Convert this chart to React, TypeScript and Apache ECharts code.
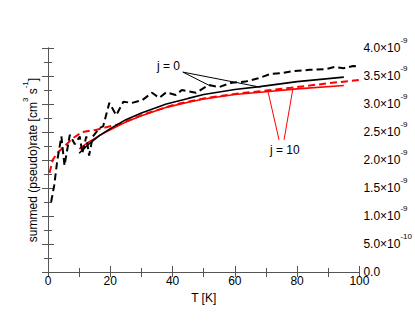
import React, { useEffect, useRef } from "react";
import * as echarts from "echarts";

// values are in units of 1e-9 cm^3 s^-1
const blackDashedT = [1, 2, 3, 4.3, 5.3, 7, 8.6, 10.2, 11, 12.3, 13.2, 14.4, 16.5, 17.7, 19.7, 21.9, 24.2, 27, 30.3, 33.4, 35.7, 38, 41, 43, 47.5, 51.6, 54.8, 59, 63.4, 67.5, 71.7, 75, 79, 84, 89, 92, 95, 98, 100];
const blackDashedV = [1.25, 1.55, 2.0, 2.42, 1.9, 2.45, 2.28, 2.42, 2.12, 2.42, 2.08, 2.42, 2.57, 2.6, 3.02, 2.8, 3.04, 3.02, 3.07, 3.2, 3.11, 3.21, 3.16, 3.25, 3.2, 3.34, 3.3, 3.38, 3.4, 3.46, 3.54, 3.55, 3.59, 3.61, 3.62, 3.66, 3.64, 3.68, 3.67];

const blackSolidT = [10, 13, 16.6, 20, 25, 30, 38, 45, 50, 60, 68, 80, 95];
const blackSolidV = [2.12, 2.28, 2.44, 2.56, 2.72, 2.84, 3.0, 3.1, 3.17, 3.26, 3.31, 3.4, 3.48];

const redSolidT = [10, 13, 16.6, 20, 25, 30, 38, 45, 50, 60, 70, 80, 95];
const redSolidV = [2.2, 2.32, 2.44, 2.54, 2.68, 2.79, 2.94, 3.03, 3.09, 3.17, 3.22, 3.27, 3.33];

const redDashedT = [0.5, 1.5, 3, 5, 8, 11, 15.6, 19, 23, 30, 40, 50, 60, 70, 78, 90, 100];
const redDashedV = [1.77, 2.0, 2.13, 2.23, 2.39, 2.5, 2.54, 2.59, 2.64, 2.8, 2.98, 3.1, 3.18, 3.24, 3.29, 3.37, 3.43];

const xTicks = [0, 20, 40, 60, 80, 100];
const yMax = 4.0;

// annotation leader lines (data coordinates)
const j0Lines = [
  [[43.3, 3.57], [52.2, 3.32]],
  [[43.3, 3.57], [68.2, 3.30]],
];
const j10Lines = [
  [[74.2, 2.36], [70.7, 3.21]],
  [[75.8, 2.36], [78.7, 3.29]],
];

const zip = (t: number[], v: number[]) => t.map((x, i) => [x, v[i]]);

const AXIS_COLOR = "#555";
const FONT = "Liberation Sans, Arial, sans-serif";

function yLabel(v: number): string {
  if (Math.abs(v) < 1e-9) return "{a|0.0}";
  if (Math.abs(v - 0.5) < 1e-9) return "{a|5.0×10}{s|-10}";
  return "{a|" + v.toFixed(1) + "×10}{s|-9}";
}

export default function App() {
  const ref = useRef<HTMLDivElement>(null);
  useEffect(() => {
    if (!ref.current) return;
    const chart = echarts.init(ref.current, undefined, { renderer: "svg" });
    const mkLines = (lines: number[][][], color: string) => ({
      silent: true,
      symbol: "none",
      animation: false,
      label: { show: false },
      lineStyle: { color, width: 1, type: "solid" },
      data: lines.map((l) => [{ coord: l[0] }, { coord: l[1] }]),
    });
    const tickBase = {
      inside: true,
      length: 6,
      lineStyle: { color: AXIS_COLOR },
    };
    const supRich = {
      n: { fontFamily: FONT, fontSize: 12, fill: "#000", color: "#000", lineHeight: 16 },
      s: { fontFamily: FONT, fontSize: 8, fill: "#000", color: "#000", verticalAlign: "top", lineHeight: 16, padding: [-4, 0, 0, 0] },
    };
    chart.setOption({
      animation: false,
      grid: { left: 48, right: 53, top: 48, bottom: 49, containLabel: false },
      xAxis: [
        {
          type: "value",
          min: 0,
          max: 100,
          interval: 20,
          position: "bottom",
          name: "T [K]",
          nameLocation: "middle",
          nameGap: 10,
          nameTextStyle: { fontFamily: FONT, fontSize: 12, color: "#000" },
          axisLine: { show: true, lineStyle: { color: AXIS_COLOR } },
          axisTick: tickBase,
          minorTick: { show: true, splitNumber: 2, length: 4, lineStyle: { color: AXIS_COLOR } },
          axisLabel: {
            margin: 3,
            fontFamily: FONT,
            fontSize: 12,
            color: "#000",
            customValues: xTicks,
          },
          splitLine: { show: false },
          minorSplitLine: { show: false },
        },
        {
          type: "value",
          min: 0,
          max: 100,
          interval: 10,
          position: "top",
          axisLine: { show: true, lineStyle: { color: AXIS_COLOR } },
          axisTick: { ...tickBase, length: 5 },
          axisLabel: { show: false },
          splitLine: { show: false },
        },
      ],
      yAxis: [
        {
          type: "value",
          min: 0,
          max: yMax,
          interval: 0.5,
          position: "right",
          axisLine: { show: true, lineStyle: { color: AXIS_COLOR } },
          axisTick: tickBase,
          minorTick: { show: true, splitNumber: 2, length: 4, lineStyle: { color: AXIS_COLOR } },
          axisLabel: {
            margin: 4,
            formatter: yLabel,
            rich: {
              a: { fontFamily: FONT, fontSize: 12, color: "#000", lineHeight: 16 },
              s: { fontFamily: FONT, fontSize: 8, color: "#000", verticalAlign: "top", lineHeight: 16, padding: [-4, 0, 0, 0] },
            },
          },
          splitLine: { show: false },
        },
        {
          type: "value",
          min: 0,
          max: yMax,
          interval: 0.5,
          position: "left",
          axisLine: { show: true, lineStyle: { color: AXIS_COLOR } },
          axisTick: tickBase,
          minorTick: { show: true, splitNumber: 2, length: 4, lineStyle: { color: AXIS_COLOR } },
          axisLabel: { show: false },
          splitLine: { show: false },
        },
      ],
      graphic: [
        {
          type: "text",
          x: 33,
          y: 160,
          rotation: Math.PI / 2,
          style: {
            text: "{n|summed (pseudo)rate [cm}{s|3}{n| s}{s|-1}{n|]}",
            rich: supRich,
            align: "center",
            verticalAlign: "middle",
          },
        },
        { type: "text", left: 157, top: 60, style: { text: "j = 0", font: "12px " + FONT, fill: "#000" } },
        { type: "text", left: 270, top: 144, style: { text: "j = 10", font: "12px " + FONT, fill: "#000" } },
      ],
      series: [
        {
          type: "line",
          data: zip(redSolidT, redSolidV),
          showSymbol: false,
          lineStyle: { color: "#ff0000", width: 1.6 },
          markLine: mkLines(j10Lines, "#ff0000"),
          z: 2,
        },
        {
          type: "line",
          data: zip(redDashedT, redDashedV),
          showSymbol: false,
          lineStyle: { color: "#ff0000", width: 2, type: [7, 4] },
          z: 3,
        },
        {
          type: "line",
          data: zip(blackSolidT, blackSolidV),
          showSymbol: false,
          lineStyle: { color: "#000", width: 1.6 },
          markLine: mkLines(j0Lines, "#000"),
          z: 4,
        },
        {
          type: "line",
          data: zip(blackDashedT, blackDashedV),
          showSymbol: false,
          lineStyle: { color: "#000", width: 2, type: [7, 4] },
          z: 5,
        },
      ],
    });
    return () => chart.dispose();
  }, []);
  return <div ref={ref} style={{ width: 415, height: 321, position: "absolute", left: 0, top: 0 }} />;
}
